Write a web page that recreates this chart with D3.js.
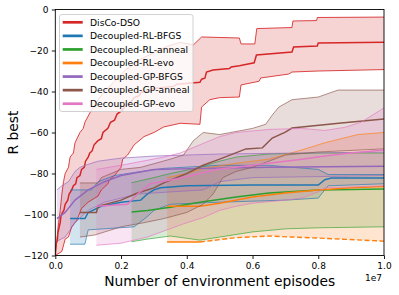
<!DOCTYPE html>
<html>
<head>
<meta charset="utf-8">
<script src="https://cdn.jsdelivr.net/npm/d3@7"></script>
<style>
  body { margin: 0; background: #fff; }
  svg { display: block; font-family: "DejaVu Sans", sans-serif; }
</style>
</head>
<body>
<div id="chart"></div>
<script>
// x values are episodes in millions, y values are R best
const seriesNames = ['DisCo-DSO', 'Decoupled-RL-BFGS', 'Decoupled-RL-anneal', 'Decoupled-RL-evo',
                     'Decoupled-GP-BFGS', 'Decoupled-GP-anneal', 'Decoupled-GP-evo'];
const seriesColors = ['#d62728', '#1f77b4', '#2ca02c', '#ff7f0e', '#9467bd', '#8c564b', '#e377c2'];

const xTicks = [0, 2, 4, 6, 8, 10];
const yTicks = [-120, -100, -80, -60, -40, -20, 0];

const discoMean = [[0,-120],[0.03,-114],[0.06,-113],[0.08,-109],[0.12,-106],[0.15,-104],[0.17,-101],[0.22,-99],
  [0.26,-98],[0.3,-95],[0.38,-93],[0.42,-90],[0.5,-88],[0.55,-86],[0.62,-85],[0.66,-82],[0.75,-81],[0.8,-78],
  [0.88,-77],[0.92,-74],[1.0,-72],[1.05,-70],[1.12,-69],[1.18,-66],[1.3,-64],[1.4,-63],[1.45,-60],[1.6,-58],
  [1.68,-55],[1.8,-54],[1.88,-51],[2.05,-49],[2.12,-47],[2.3,-45],[2.4,-43],[2.55,-42],[2.6,-40.5],[2.9,-39.5],
  [3.0,-38.5],[3.6,-37.5],[3.7,-36.5],[4.4,-35.5],[4.45,-34],[4.55,-33.5],[4.6,-30.5],[4.8,-29.5],[5.3,-28.8],
  [5.35,-28],[5.6,-27.4],[6.05,-26],[6.12,-22.2],[7.2,-20.7],[7.25,-18.3],[7.97,-17.8],[8.0,-16.3],[10,-16]];
const discoHi = [[0,-118],[0.05,-112],[0.1,-104],[0.15,-98],[0.2,-90],[0.25,-84],[0.3,-80],[0.4,-77],
  [0.45,-72],[0.55,-70],[0.6,-65],[0.75,-60],[0.85,-58],[0.9,-55],[1.0,-52],[1.1,-49],[1.3,-44],[1.5,-40],
  [1.8,-35],[2.1,-30],[2.5,-25],[3.0,-21],[3.4,-18],[3.8,-16],[4.2,-17.3],[4.45,-13.4],[5.6,-13.9],[5.65,-16.8],
  [6.07,-16.8],[6.13,-9.3],[7.2,-8.8],[7.23,-5.6],[7.95,-5.4],[7.97,-3.9],[10,-3.7]];
const discoLo = [[0,-120],[0.2,-118],[0.3,-112],[0.4,-111],[0.5,-106],[0.65,-103],[0.8,-97],[1.0,-94],
  [1.2,-92],[1.3,-91],[1.4,-88],[1.6,-85],[1.65,-83],[1.8,-81],[2.0,-77],[2.05,-73],[2.2,-71],[2.4,-66],
  [2.7,-62],[3.0,-60],[3.3,-57.3],[3.8,-55.5],[4.4,-56],[4.45,-47.6],[4.7,-44],[5.0,-43],[5.6,-42.7],
  [5.65,-36.8],[6.2,-35],[6.25,-33.4],[7.1,-31.5],[7.2,-30.5],[8.0,-30],[10,-29.3]];

const rlBfgsMean = [[0.45,-102],[0.9,-102],[1.0,-99],[1.4,-96],[2.0,-94],[2.6,-93],[2.8,-90],[3.0,-88],[3.2,-87],
  [4.0,-86],[6.0,-85.6],[8.0,-85.6],[8.2,-83],[8.4,-82.2],[10,-82.2]];
const rlBfgsHi = [[0.45,-88],[1.1,-88],[1.3,-84],[1.8,-81],[2.4,-79.5],[3.3,-77.5],[5.0,-76],[6.5,-76],[8.0,-78],
  [8.3,-80.5],[10,-80.5]];
const rlBfgsLo = [[0.45,-114.5],[0.9,-114.5],[1.0,-107.5],[2.4,-106],[2.8,-101],[3.0,-98],[3.5,-95],[5.0,-94],
  [7.0,-93],[8.0,-92],[8.3,-86],[10,-85]];

const rlAnnealMean = [[2.32,-98.8],[2.8,-98],[3.5,-96.5],[4.4,-94],[5.5,-91.5],[6.5,-89.5],[8.0,-88],[10,-87.5]];
const rlAnnealHi = [[2.32,-84.5],[3.0,-82],[3.5,-80],[4.4,-77],[5.0,-74],[5.5,-72],[6.5,-70.5],[8.0,-70],[10,-70]];
const rlAnnealLo = [[2.32,-113.3],[2.8,-112],[3.5,-110.5],[4.4,-112.5],[5.0,-111],[6.0,-108.5],[7.0,-107],
  [8.0,-106.5],[10,-106]];

const rlEvoMean = [[3.4,-96],[4.4,-96],[5.0,-94.5],[6.0,-91.5],[7.0,-89.5],[8.0,-88],[9.0,-87],[10,-86.3]];
const rlEvoHi = [[3.4,-82],[4.0,-80],[4.5,-77.5],[5.5,-75],[6.5,-73],[7.5,-68.5],[8.2,-65],[9.2,-61],[10,-60]];
const rlEvoLo = [[3.4,-113.4],[4.4,-113.4],[5.5,-111.3],[6.5,-110.5],[7.2,-111],[8.0,-111.5],[10,-113]];

const gpBfgsMean = [[0.05,-102],[0.3,-99],[0.6,-93],[1.0,-88],[1.5,-84],[2.0,-81],[3.0,-78],[4.5,-77.5],
  [6.5,-77],[10,-76.5]];
const gpBfgsHi = [[0.05,-88],[0.2,-86],[0.4,-84],[0.6,-79],[0.75,-77],[1.0,-75.5],[1.3,-74],[2.0,-72.5],
  [3.0,-71.5],[5.0,-70.5],[10,-69.5]];
const gpBfgsLo = [[0.05,-113],[0.3,-111],[0.6,-104],[1.0,-98],[1.5,-94],[2.5,-90],[4.5,-88],[5.0,-84],
  [6.0,-82],[10,-81]];

const gpAnnealMean = [[0.75,-99],[1.25,-99],[1.3,-96],[2.0,-93],[2.5,-89.5],[3.0,-87],[3.3,-84.6],[4.0,-80],
  [4.5,-76],[5.0,-73],[5.8,-68],[6.3,-67.5],[6.6,-62.7],[7.0,-59.8],[7.2,-57.8],[8.7,-55.4],[10,-53.4]];
const gpAnnealHi = [[0.75,-84.6],[1.3,-84.6],[1.4,-82],[2.0,-78],[2.6,-77],[3.5,-73],[3.9,-71],[4.2,-64],
  [4.5,-60],[5.0,-61],[6.0,-58],[6.4,-56],[6.6,-51.5],[6.8,-47.6],[7.2,-44],[8.0,-42.7],[8.6,-39.3],[10,-39.3]];
const gpAnnealLo = [[0.75,-111],[1.2,-110],[2.0,-106],[2.7,-104],[3.3,-102],[4.0,-99],[4.5,-95],[4.8,-90],
  [5.1,-82],[5.5,-79],[6.0,-77],[6.5,-74],[7.0,-71],[8.0,-69.5],[10,-68]];

const gpEvoMean = [[1.25,-96],[2.2,-95],[2.5,-90],[2.9,-85],[3.9,-82],[4.9,-78],[6.0,-76],[6.5,-75],[7.5,-73],
  [8.2,-71.5],[9.0,-70],[10,-68.5]];
const gpEvoHi = [[1.25,-78],[2.0,-76],[3.3,-72],[3.8,-70],[4.4,-66],[5.0,-62],[5.5,-60],[6.5,-58.5],[7.5,-58],
  [8.2,-59],[8.8,-57.5],[9.3,-55],[10,-48]];
const gpEvoLo = [[1.25,-115],[2.0,-114],[2.8,-111],[3.4,-107.5],[4.0,-104],[4.5,-101.5],[5.0,-98],[5.5,-96],
  [6.0,-94.5],[7.0,-93],[7.5,-92],[8.0,-89],[8.2,-87],[10,-86]];

const rlEvoDashFrom = 4.4;

const series = [
  { mean: discoMean, lo: discoLo, hi: discoHi, edgeOpacity: 0.85 },
  { mean: rlBfgsMean, lo: rlBfgsLo, hi: rlBfgsHi },
  { mean: rlAnnealMean, lo: rlAnnealLo, hi: rlAnnealHi },
  { mean: rlEvoMean, lo: rlEvoLo, hi: rlEvoHi, dashLo: rlEvoDashFrom },
  { mean: gpBfgsMean, lo: gpBfgsLo, hi: gpBfgsHi },
  { mean: gpAnnealMean, lo: gpAnnealLo, hi: gpAnnealHi },
  { mean: gpEvoMean, lo: gpEvoLo, hi: gpEvoHi }
].map((s, i) => Object.assign(s, { name: seriesNames[i], color: seriesColors[i] }));

const width = 399, height = 295;
const plot = { left: 55.3, right: 384, top: 9.5, bottom: 255.5 };

const svg = d3.select('#chart').append('svg')
  .attr('width', width)
  .attr('height', height);

const x = d3.scaleLinear().domain([0, 10]).range([plot.left, plot.right]);
const y = d3.scaleLinear().domain([-120, 0]).range([plot.bottom, plot.top]);

const line = d3.line().x(d => x(d[0])).y(d => y(d[1]));

svg.append('defs').append('clipPath').attr('id', 'plotclip')
  .append('rect')
  .attr('x', plot.left).attr('y', plot.top)
  .attr('width', plot.right - plot.left).attr('height', plot.bottom - plot.top);

const gPlot = svg.append('g').attr('clip-path', 'url(#plotclip)');

// fills first (like matplotlib collections), lines on top
series.forEach(s => {
  const band = s.hi.concat(s.lo.slice().reverse());
  gPlot.append('path')
    .attr('d', line(band) + 'Z')
    .attr('fill', s.color)
    .attr('fill-opacity', 0.2)
    .attr('stroke', 'none');
});

series.forEach(s => {
  const edgeOp = s.edgeOpacity || 0.65;
  gPlot.append('path')
    .attr('d', line(s.hi))
    .attr('fill', 'none').attr('stroke', s.color)
    .attr('stroke-opacity', edgeOp).attr('stroke-width', 1);
  if (s.dashLo !== undefined) {
    gPlot.append('path')
      .attr('d', line(s.lo.filter(d => d[0] <= s.dashLo)))
      .attr('fill', 'none').attr('stroke', s.color)
      .attr('stroke-width', 1.4);
    gPlot.append('path')
      .attr('d', line(s.lo.filter(d => d[0] >= s.dashLo)))
      .attr('fill', 'none').attr('stroke', s.color)
      .attr('stroke-width', 1.4).attr('stroke-dasharray', '5,2.5');
  } else {
    gPlot.append('path')
      .attr('d', line(s.lo))
      .attr('fill', 'none').attr('stroke', s.color)
      .attr('stroke-opacity', edgeOp).attr('stroke-width', 1);
  }
  gPlot.append('path')
    .attr('d', line(s.mean))
    .attr('fill', 'none').attr('stroke', s.color)
    .attr('stroke-width', 1.5);
});

// axes
const xAxis = d3.axisBottom(x)
  .tickValues(xTicks)
  .tickFormat(d => (d / 10).toFixed(1))
  .tickSize(3.5)
  .tickPadding(4);

const yAxis = d3.axisLeft(y)
  .tickValues(yTicks)
  .tickFormat(d => d < 0 ? '\u2212' + Math.abs(d) : String(d))
  .tickSize(3.5)
  .tickPadding(3.3);

const gx = svg.append('g')
  .attr('transform', `translate(0,${plot.bottom})`)
  .call(xAxis);
const gy = svg.append('g')
  .attr('transform', `translate(${plot.left},0)`)
  .call(yAxis);

[gx, gy].forEach(g => {
  g.select('.domain').remove();
  g.selectAll('text').style('font-size', '9px').attr('fill', '#000');
  g.selectAll('line').attr('stroke', '#000').attr('stroke-width', 0.9);
  g.attr('font-family', null);
});

svg.append('rect')
  .attr('x', plot.left).attr('y', plot.top)
  .attr('width', plot.right - plot.left).attr('height', plot.bottom - plot.top)
  .attr('fill', 'none').attr('stroke', '#000').attr('stroke-width', 0.9);

svg.append('text')
  .attr('x', plot.right - 2).attr('y', 280.5)
  .attr('text-anchor', 'end')
  .style('font-size', '9px')
  .text('1e7');

svg.append('text')
  .attr('x', (plot.left + plot.right) / 2).attr('y', 285.5)
  .attr('text-anchor', 'middle')
  .style('font-size', '13.8px')
  .text('Number of environment episodes');

svg.append('text')
  .attr('transform', `translate(18.3,${(plot.top + plot.bottom) / 2}) rotate(-90)`)
  .attr('text-anchor', 'middle')
  .style('font-size', '13.8px')
  .text('R best');

// legend
const legend = svg.append('g');
legend.append('rect')
  .attr('x', 59.5).attr('y', 14.5)
  .attr('width', 133.5).attr('height', 97)
  .attr('rx', 2.5)
  .attr('fill', '#fff').attr('fill-opacity', 0.8)
  .attr('stroke', '#cccccc').attr('stroke-width', 0.9);

series.forEach((s, i) => {
  const ly = 22.3 + i * 13.57;
  legend.append('line')
    .attr('x1', 62.7).attr('x2', 82.7)
    .attr('y1', ly).attr('y2', ly)
    .attr('stroke', s.color).attr('stroke-width', 2.7);
  legend.append('text')
    .attr('x', 90).attr('y', ly)
    .attr('dy', '0.35em')
    .style('font-size', '9.2px')
    .text(s.name);
});
</script>
</body>
</html>
